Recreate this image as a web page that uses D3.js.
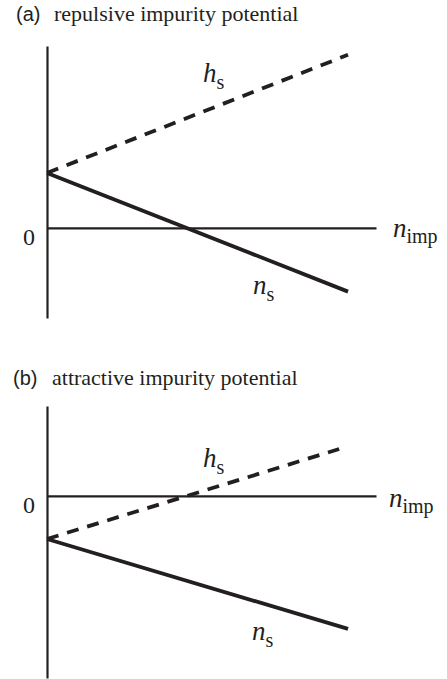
<!DOCTYPE html>
<html>
<head>
<meta charset="utf-8">
<script src="https://cdn.jsdelivr.net/npm/d3@7"></script>
<style>
  html, body { margin: 0; padding: 0; background: #fff; }
  svg { display: block; }
</style>
</head>
<body>
<svg id="chart" width="447" height="679"></svg>
<script>
// ---- data ----
const panelTags = ["(a)", "(b)"];
const panelTitles = ["repulsive impurity potential", "attractive impurity potential"];
// x = impurity concentration (arbitrary units), y = value (arbitrary units)
const hsXA = [0, 0.915];
const hsYA = [1, 3.15];
const nsXA = [0, 0.915];
const nsYA = [1, -1.16];
const hsXB = [0, 0.888];
const hsYB = [-1, 1.09];
const nsXB = [0, 0.915];
const nsYB = [-1, -3.09];
const yDomainA = [-1.64, 3.31];
const yDomainB = [-4.23, 2.09];
const xDomain = [0, 1];
const zeroLabel = "0";
const xLabel = { main: "n", sub: "imp" };
const hsLabel = { main: "h", sub: "s" };
const nsLabel = { main: "n", sub: "s" };
// label anchor points in data units
const hsLabelPos = [[0.474, 2.65], [0.474, 0.67]];
const nsLabelPos = [[0.626, -1.2], [0.623, -3.35]];

const svg = d3.select("#chart");
const SERIF = '"Liberation Serif"';
const SANS = '"Liberation Sans"';
const INK = "#231f20";

const panels = [
  { top: 46, bottom: 318, yDomain: yDomainA, hs: [hsXA, hsYA], ns: [nsXA, nsYA],
    titleY: 21, tagX: 16, titleX: 54, nimpX: 393, nimpDy: 9 },
  { top: 406, bottom: 678, yDomain: yDomainB, hs: [hsXB, hsYB], ns: [nsXB, nsYB],
    titleY: 385, tagX: 13, titleX: 52, nimpX: 389, nimpDy: 11 }
];

const x = d3.scaleLinear().domain(xDomain).range([47, 376]);

function txt(sel, family, size) {
  return sel.append("text").style("font-family", family).style("font-size", size + "px")
    .attr("fill", INK);
}

panels.forEach((p, i) => {
  const y = d3.scaleLinear().domain(p.yDomain).range([p.bottom, p.top]);
  const g = svg.append("g");

  // title
  txt(g, SANS, 20).attr("x", p.tagX).attr("y", p.titleY).text(panelTags[i]);
  txt(g, SERIF, 22).attr("x", p.titleX).attr("y", p.titleY).text(panelTitles[i]);

  // axes (no ticks)
  const yAxis = g.append("g").attr("transform", `translate(${x(0)},0)`)
    .call(d3.axisLeft(y).tickValues([]).tickSizeOuter(0));
  const xAxis = g.append("g").attr("transform", `translate(0,${y(0)})`)
    .call(d3.axisBottom(x).tickValues([]).tickSizeOuter(0));
  [yAxis, xAxis].forEach(a => a.select(".domain")
    .attr("stroke", INK).attr("stroke-width", 2.2));

  // lines
  const line = d3.line().x(d => x(d[0])).y(d => y(d[1]));
  const hsPts = p.hs[0].map((v, k) => [v, p.hs[1][k]]);
  const nsPts = p.ns[0].map((v, k) => [v, p.ns[1][k]]);
  g.append("path").datum(hsPts).attr("d", line)
    .attr("fill", "none").attr("stroke", INK).attr("stroke-width", 3.8)
    .attr("stroke-dasharray", "12,9");
  g.append("path").datum(nsPts).attr("d", line)
    .attr("fill", "none").attr("stroke", INK).attr("stroke-width", 3.8);

  // zero label
  txt(g, SERIF, 24).attr("x", x(0) - 12).attr("y", y(0) + 17)
    .attr("text-anchor", "end").text(zeroLabel);

  // x label
  const xl = txt(g, SERIF, 27).attr("x", p.nimpX).attr("y", y(0) + p.nimpDy);
  xl.append("tspan").style("font-style", "italic").text(xLabel.main);
  xl.append("tspan").style("font-size", "20px").attr("dy", 6).text(xLabel.sub);

  // series labels
  [[hsLabel, hsLabelPos[i]], [nsLabel, nsLabelPos[i]]].forEach(([lab, pos]) => {
    const t = txt(g, SERIF, 27).attr("x", x(pos[0])).attr("y", y(pos[1]));
    t.append("tspan").style("font-style", "italic").text(lab.main);
    t.append("tspan").style("font-size", "20px").attr("dy", 7).text(lab.sub);
  });
});
</script>
</body>
</html>
